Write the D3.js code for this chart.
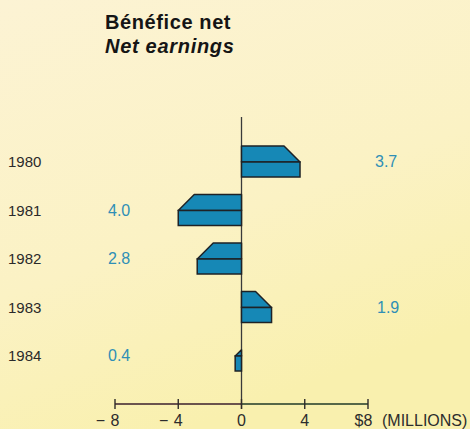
<!DOCTYPE html>
<html>
<head>
<meta charset="utf-8">
<script src="https://cdn.jsdelivr.net/npm/d3@7"></script>
<style>
  html, body { margin: 0; padding: 0; }
  svg { display: block; }
</style>
</head>
<body>
<svg id="chart" width="470" height="429"></svg>
<script>
// Net earnings by year, in millions of dollars (losses are negative)
const years = ["1980", "1981", "1982", "1983", "1984"];
const earnings = [3.7, -4.0, -2.8, 1.9, -0.4];
const valueLabels = ["3.7", "4.0", "2.8", "1.9", "0.4"];
const tickValues = [-8, -4, 0, 4, 8];

const W = 470, H = 429;
const svg = d3.select("#chart");
const font = "Liberation Sans, Arial, sans-serif";

// paper background
const defs = svg.append("defs");
const grad = defs.append("linearGradient").attr("id", "paper")
  .attr("x1", 0).attr("y1", 0).attr("x2", 0.4).attr("y2", 1);
grad.append("stop").attr("offset", 0).attr("stop-color", "#fcf3d4");
grad.append("stop").attr("offset", 0.6).attr("stop-color", "#fbf2c4");
grad.append("stop").attr("offset", 1).attr("stop-color", "#f9f0ae");
svg.append("rect").attr("width", W).attr("height", H).attr("fill", "url(#paper)");

const x = d3.scaleLinear().domain([-8, 8]).range([115, 368]);
const y = d3.scalePoint().domain(years).range([162, 356]);

const ink = "#1e2226";
const barFill = "#1688b6";
const labelBlue = "#2f8fb6";
const depth = 16;   // height of the slanted top face
const lower = 15;   // height of the front face

// titles
svg.append("text").attr("x", 105).attr("y", 29)
  .attr("font-family", font).attr("font-weight", "bold")
  .attr("font-size", 20).attr("letter-spacing", 0.6).attr("fill", "#151515")
  .text("Bénéfice net");
svg.append("text").attr("x", 105).attr("y", 53)
  .attr("font-family", font).attr("font-weight", "bold").attr("font-style", "italic")
  .attr("font-size", 20).attr("letter-spacing", 0.7).attr("fill", "#151515")
  .text("Net earnings");

// zero line
svg.append("line")
  .attr("x1", x(0)).attr("x2", x(0)).attr("y1", 117).attr("y2", 409)
  .attr("stroke", "#3a3a3a").attr("stroke-width", 1.3);

// bars: front face plus a slanted top face
const rows = years.map((yr, i) => ({ yr, v: earnings[i], label: valueLabels[i] }));
const g = svg.append("g");
rows.forEach(d => {
  const x0 = x(0), x1 = x(d.v), ym = y(d.yr);
  const w = Math.abs(x1 - x0), s = Math.sign(x1 - x0);
  const off = Math.min(depth, w);
  const top = w > depth
    ? [[x0, ym], [x1, ym], [x1 - s * depth, ym - depth], [x0, ym - depth]]
    : [[x0, ym], [x1, ym], [x0, ym - off]];
  g.append("path")
    .attr("d", d3.line()(top) + "Z")
    .attr("fill", barFill).attr("stroke", ink).attr("stroke-width", 1.5)
    .attr("stroke-linejoin", "round");
  g.append("rect")
    .attr("x", Math.min(x0, x1)).attr("y", ym)
    .attr("width", w).attr("height", lower)
    .attr("fill", barFill).attr("stroke", ink).attr("stroke-width", 1.5);
});

// year labels
svg.append("g").selectAll("text").data(rows).join("text")
  .attr("x", 8).attr("y", d => y(d.yr) + 1.5)
  .attr("dominant-baseline", "middle")
  .attr("font-family", font)
  .attr("font-size", 15).attr("fill", "#2a2a2a")
  .text(d => d.yr);

// value labels: gains on the right, losses on the left
svg.append("g").selectAll("text").data(rows).join("text")
  .attr("x", d => d.v >= 0 ? 375 + (d.label === "1.9" ? 2 : 0) : 108)
  .attr("y", d => y(d.yr) + 1)
  .attr("dominant-baseline", "middle")
  .attr("font-family", font)
  .attr("font-size", 16).attr("fill", labelBlue)
  .text(d => d.label);

// horizontal axis
const axisY = 404;
svg.append("line")
  .attr("x1", x(-8)).attr("x2", x(0)).attr("y1", axisY).attr("y2", axisY)
  .attr("stroke", "#3a1f2c").attr("stroke-width", 1.6);
svg.append("line")
  .attr("x1", x(0)).attr("x2", x(8)).attr("y1", axisY).attr("y2", axisY)
  .attr("stroke", "#1f3a26").attr("stroke-width", 1.6);
svg.append("g").selectAll("line").data(tickValues).join("line")
  .attr("x1", d => x(d)).attr("x2", d => x(d))
  .attr("y1", axisY - 5).attr("y2", axisY + 5)
  .attr("stroke", "#2e2a2a").attr("stroke-width", 1.4);

// tick labels: digit centred on the tick, sign/unit around it
const tl = svg.append("g")
  .attr("font-family", font)
  .attr("font-size", 16).attr("fill", "#2c2c2c");
const baseY = 425.5;
tickValues.forEach(t => {
  const cx = x(t);
  tl.append("text").attr("x", cx).attr("y", baseY).attr("text-anchor", "middle")
    .text(Math.abs(t));
  if (t < 0) {
    tl.append("text").attr("x", cx - 10).attr("y", baseY).attr("text-anchor", "end")
      .text("\u2212");
  }
  if (t === 8) {
    tl.append("text").attr("x", cx - 4.5).attr("y", baseY).attr("text-anchor", "end")
      .text("$");
    tl.append("text").attr("x", cx + 14).attr("y", baseY).attr("text-anchor", "start")
      .text("(MILLIONS)");
  }
});
</script>
</body>
</html>
